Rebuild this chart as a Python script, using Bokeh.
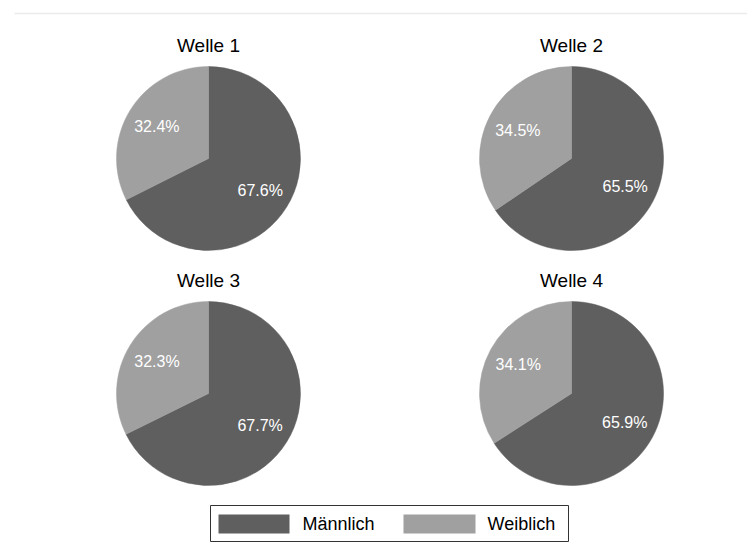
import math
from bokeh.plotting import figure
from bokeh.models import Range1d, ColumnDataSource
from bokeh.core.properties import value
from bokeh.embed import file_html
from bokeh.resources import INLINE

# ---- data ----
waves = ["Welle 1", "Welle 2", "Welle 3", "Welle 4"]
categories = ["Männlich", "Weiblich"]
maennlich = [67.6, 65.5, 67.7, 65.9]
weiblich = [32.4, 34.5, 32.3, 34.1]
colors = ["#5f5f5f", "#a0a0a0"]

# ---- layout (screen pixel coordinates) ----
W, H = 747, 545
centers = [(208, 158), (571, 158), (208, 393), (571, 393)]
R = 92
FONT = "Liberation Sans"

p = figure(width=W, height=H, output_backend="svg", toolbar_location=None,
           x_range=Range1d(0, W), y_range=Range1d(551 - H, 551),
           min_border=0, outline_line_color=None)
p.axis.visible = False
p.grid.visible = False
p.background_fill_color = "white"
p.border_fill_color = "white"

def sy(y):
    return 551 - y

# faint top rule
p.segment(x0=[14], y0=[sy(13)], x1=[W], y1=[sy(13)], line_color="#ebebeb", line_width=1.5)

for i, (cx, cy) in enumerate(centers):
    vals = [maennlich[i], weiblich[i]]
    total = sum(vals)
    start = math.pi / 2
    # clockwise from 12 o'clock
    angs = []
    for v in vals:
        end = start - 2 * math.pi * v / total
        angs.append((end, start))
        start = end
    src = ColumnDataSource(dict(
        x=[cx, cx], y=[sy(cy), sy(cy)],
        s=[a[0] for a in angs], e=[a[1] for a in angs],
        c=colors))
    p.wedge(x="x", y="y", radius=R, start_angle="s", end_angle="e",
            fill_color="c", line_color="c", line_width=0.5, source=src)
    lx, ly, lt = [], [], []
    for (a0, a1), v in zip(angs, vals):
        mid = (a0 + a1) / 2
        lx.append(cx + 0.66 * R * math.cos(mid))
        ly.append(sy(cy) + 0.66 * R * math.sin(mid))
        lt.append(f"{v:.1f}%")
    p.text(x=lx, y=ly, text=lt, text_color="white", text_font=value(FONT),
           text_font_size="16px", text_align="center", text_baseline="middle")
    p.text(x=[cx], y=[sy(cy - 113)], text=[waves[i]], text_color="black",
           text_font=value(FONT), text_font_size="19px",
           text_align="center", text_baseline="middle")

# ---- legend ----
p.quad(left=[210], right=[568], bottom=[sy(541)], top=[sy(505)],
       fill_color="white", line_color="#333333", line_width=1)
sw_left = [218, 403]
sw_right = [289, 475]
txt_x = [302, 487]
p.quad(left=sw_left, right=sw_right, bottom=[sy(533)] * 2, top=[sy(514)] * 2,
       fill_color=colors, line_color=None)
p.text(x=txt_x, y=[sy(523.5)] * 2, text=categories, text_color="black",
       text_font=value(FONT), text_font_size="18px",
       text_align="left", text_baseline="middle")

open("out.html", "w").write(file_html(p, INLINE))
